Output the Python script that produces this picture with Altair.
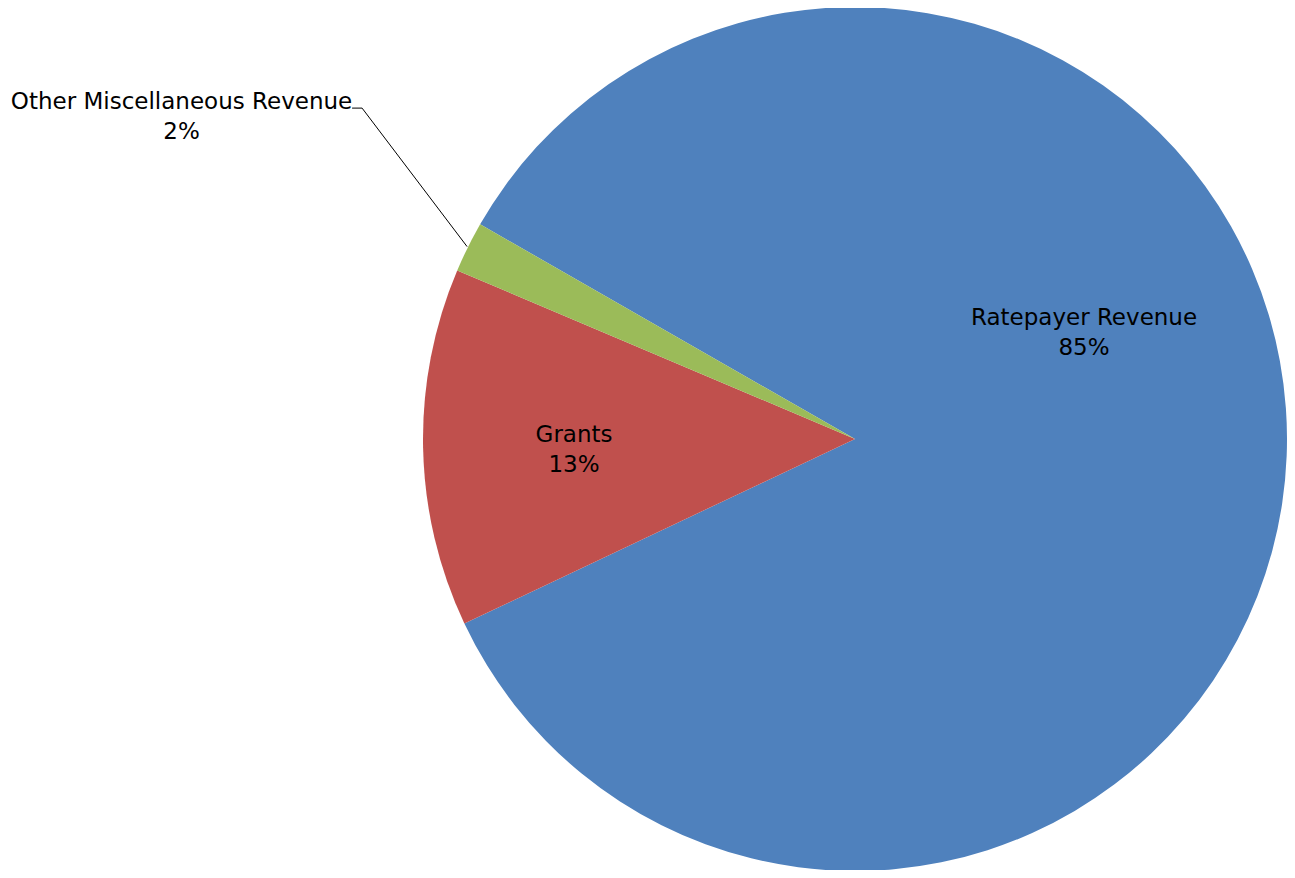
import math
import altair as alt
import pandas as pd

# ---- data ----
categories = ["Ratepayer Revenue", "Grants", "Other Miscellaneous Revenue"]
values = [84.7, 13.4, 1.9]
pct_labels = ["85%", "13%", "2%"]
colors = ["#4F81BD", "#C0504D", "#9BBB59"]

df = pd.DataFrame({
    "idx": list(range(len(categories))),
    "category": categories,
    "value": values,
    "pct": pct_labels,
})
TOTAL = float(sum(values))

# ---- layout ----
START = math.radians(299.8)      # first slice starts here (clockwise from 12 o'clock)
CX, CY, R = 847, 431, 432        # pie centre / radius in plot coordinates
FONT = "DejaVu Sans"
FS = 23
LINE = 30

theta_scale = alt.Scale(domain=[0, TOTAL], range=[START, START + 2 * math.pi])

pie = alt.Chart(df).mark_arc(outerRadius=R).encode(
    theta=alt.Theta("value:Q", stack=True, scale=theta_scale),
    order=alt.Order("idx:Q"),
    x=alt.value(CX), y=alt.value(CY),
    color=alt.Color("category:N",
                    scale=alt.Scale(domain=categories, range=colors),
                    legend=None),
)

stacked = (
    alt.Chart(df)
    .transform_stack(stack="value", as_=["s0", "s1"], groupby=[],
                     sort=[alt.SortField("idx")])
    .transform_calculate(mid="(datum.s0 + datum.s1) / 2")
)


def label_layers(cat, radius, theta_offset_deg=0.0):
    layers = []
    for field, dy in (("category", 0), ("pct", LINE)):
        layers.append(
            stacked.transform_filter(alt.datum.category == cat)
            .mark_text(radius=radius, thetaOffset=math.radians(theta_offset_deg),
                       dy=dy, font=FONT, fontSize=FS, color="black",
                       align="center", baseline="middle")
            .encode(theta=alt.Theta("mid:Q", stack=None, scale=theta_scale),
                    x=alt.value(CX), y=alt.value(CY),
                    text=alt.Text(f"{field}:N"))
        )
    return layers


labels = (label_layers(categories[0], 259, -30.1)
          + label_layers(categories[1], 281, 1.98)
          + label_layers(categories[2], 753, 0.19))

leader = (
    stacked.transform_filter(alt.datum.category == categories[2])
    .transform_calculate(
        ang=f"{START} + 2*PI*datum.mid/{TOTAL}")
    .transform_calculate(ex=f"{CX} + {R + 1}*sin(datum.ang)",
                         ey=f"{CY} - {R + 1}*cos(datum.ang)")
    .transform_calculate(kx="datum.ex - 105", ky="datum.ey - 138.5",
                         hx="datum.ex - 115")
)
seg1 = leader.mark_rule(color="black", strokeWidth=1).encode(
    x=alt.X("ex:Q", scale=None, axis=None),
    y=alt.Y("ey:Q", scale=None, axis=None),
    x2="kx:Q", y2="ky:Q",
)
seg2 = leader.mark_rule(color="black", strokeWidth=1).encode(
    x=alt.X("kx:Q", scale=None, axis=None),
    y=alt.Y("ky:Q", scale=None, axis=None),
    x2="hx:Q", y2="ky:Q",
)

chart = (
    alt.layer(pie, *labels, seg1, seg2)
    .properties(width=1279, height=862,
                autosize=alt.AutoSizeParams(type="none"), padding=0)
    .configure_view(stroke=None)
)

chart.save("out.html", embed_options={"renderer": "svg", "actions": False})
